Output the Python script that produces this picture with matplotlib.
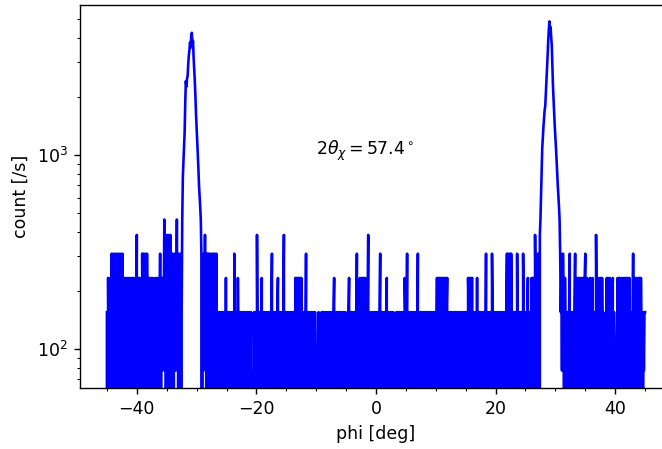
import numpy as np
import matplotlib
matplotlib.use("Agg")
import matplotlib.pyplot as plt

# count rate of one detector hit [1/s]
unit = 77.5

# phi grid: -45 .. 45 deg, step 0.1
phi = np.round(np.linspace(-45, 45, 901), 1)

# background left of first peak (-45.0 .. -32.5), in hits
bg_left = ("2031023042" "0412403410" "4204314023" "0321302310" "3203130231"
           "5023031204" "1402430413" "0321302321" "0312302314" "0231326130"
           "5215305241" "40241326" "14032402")
# first peak (-32.4 .. -29.3)
peak_left = [6, 10, 12, 14, 17, 24, 31, 29, 32, 33,
             38, 42, 45, 49, 46, 53, 55, 48, 50, 41,
             36, 31, 26, 21, 18, 15, 13, 11, 9, 8,
             7, 6]
# background between the peaks (-29.2 .. 27.3)
bg_mid = ("40314" "2514042"
          "4140342041" "4204120212" "0212201203" "0210220120" "2104201203"
          "1202102201" "2012021020" "1201102012" "0512021023" "0212012021"
          "2021024012" "0210223021" "2012025021" "0212012021" "2021032303"
          "2303132021" "0214021202" "1022012021" "0101201012" "0212021020"
          "2102201202" "3012021021" "2021022012" "0101230212" "0210220140"
          "2123023130" "3230212502" "0120210220"
          "1202102402" "1201202130" "2102201202" "0101202102" "2012021032"
          "0140212021" "2021021201" "4021022012" "0210212021" "0220120210"
          "2130323031" "3023130323" "0210220120" "2102102201" "2021021021"
          "0210323031" "3302102103" "0212021021" "2021402102" "0120420120"
          "2102201202" "1202102124" "0421404201" "2021204102" "1202104201"
          "2012302120" "3031305213" "0420")
# second peak (27.4 .. 30.7)
peak_right = [5, 6, 8, 11, 14, 16, 18, 20, 22, 23,
              27, 31, 36, 42, 50, 57, 63, 56, 59, 52,
              47, 37, 29, 25, 21, 18, 16, 14, 12, 10,
              9, 8, 7, 6]
# background right of second peak (30.8 .. 45.0)
bg_right = ("42314" "4203120"
            "2102402102" "1024023103" "2031302303" "4023102230" "2130212052"
            "0312032031" "2010123032" "0312023021" "0101320312" "3023103203"
            "1302302101" "4032031203" "2303120212"
            "2")

hits = ([int(c) for c in bg_left] + peak_left + [int(c) for c in bg_mid]
        + peak_right + [int(c) for c in bg_right])
assert len(hits) == len(phi), len(hits)
count = np.array(hits) * unit

fig = plt.figure(figsize=(662 / 125, 449 / 125), dpi=125)
ax = fig.add_axes([80 / 662, 61 / 449, 592 / 662, 383 / 449])
ax.plot(phi, count, color="blue")
ax.set_yscale("log")
ax.set_xlim(-49.5, 49.5)
ax.set_ylim(63, 5930)
ax.minorticks_on()
ax.set_xlabel("phi [deg]")
ax.set_ylabel("count [/s]")
ax.text(-10, 1000, r"$2\theta_\chi = 57.4^\circ$")

fig.savefig("out.png", dpi=125)
